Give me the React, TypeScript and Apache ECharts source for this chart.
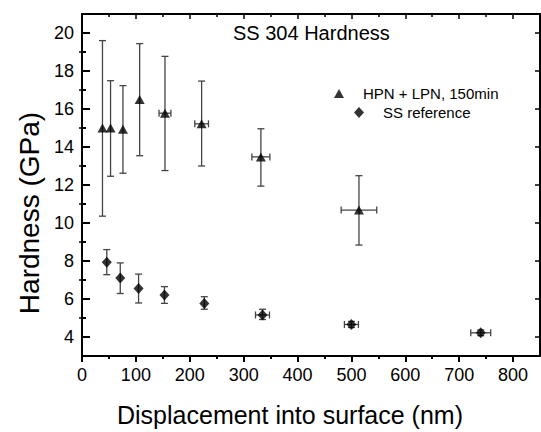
import React, { useEffect, useRef } from "react";
import * as echarts from "echarts";

// ---- data ----
const triName = "HPN + LPN, 150min";
const triX = [38, 53, 76, 107, 154, 222, 332, 514];
const triY = [15.0, 15.0, 14.93, 16.5, 15.78, 15.22, 13.48, 10.68];
const triYLow = [10.36, 12.46, 12.62, 13.54, 12.76, 13.0, 11.94, 8.84];
const triYHigh = [19.6, 17.49, 17.23, 19.44, 18.77, 17.47, 14.96, 12.49];
const triXErr = [2, 2, 3, 5, 11, 12.7, 16.7, 33];

const ssName = "SS reference";
const ssX = [46, 71, 105, 153, 227, 335, 500, 740];
const ssY = [7.94, 7.1, 6.55, 6.21, 5.76, 5.16, 4.66, 4.22];
const ssYLow = [7.28, 6.29, 5.79, 5.77, 5.46, 4.92, 4.5, 4.07];
const ssYHigh = [8.6, 7.9, 7.31, 6.65, 6.12, 5.46, 4.82, 4.37];
const ssXErr = [2, 2, 3, 6, 6, 13, 13, 18.5];

const xMajorTicks = [0, 100, 200, 300, 400, 500, 600, 700, 800];
const xMinorTicks = [50, 150, 250, 350, 450, 550, 650, 750];
const yMajorTicks = [4, 6, 8, 10, 12, 14, 16, 18, 20];
const yMinorTicks = [5, 7, 9, 11, 13, 15, 17, 19];
const xMin = 0, xMax = 850, yMin = 3, yMax = 21;

const FONT = "'Liberation Sans', Arial, Helvetica, sans-serif";

function rows(x: number[], y: number[], lo: number[], hi: number[], xe: number[]) {
  return x.map((v, i) => [v, y[i], lo[i], hi[i], xe[i]]);
}

function errRender(params: any, api: any) {
  const x = api.value(0), y = api.value(1), lo = api.value(2), hi = api.value(3), xe = api.value(4);
  const c = api.coord([x, y]);
  const top = api.coord([x, hi]);
  const bot = api.coord([x, lo]);
  const l = api.coord([x - xe, y]);
  const r = api.coord([x + xe, y]);
  const cap = 3.5;
  const st = { stroke: "#444", lineWidth: 1.3 };
  const children: any[] = [
    { type: "line", shape: { x1: top[0], y1: top[1], x2: bot[0], y2: bot[1] }, style: st },
    { type: "line", shape: { x1: top[0] - cap, y1: top[1], x2: top[0] + cap, y2: top[1] }, style: st },
    { type: "line", shape: { x1: bot[0] - cap, y1: bot[1], x2: bot[0] + cap, y2: bot[1] }, style: st },
  ];
  if (r[0] - l[0] > 9) {
    children.push(
      { type: "line", shape: { x1: l[0], y1: c[1], x2: r[0], y2: c[1] }, style: st },
      { type: "line", shape: { x1: l[0], y1: c[1] - cap, x2: l[0], y2: c[1] + cap }, style: st },
      { type: "line", shape: { x1: r[0], y1: c[1] - cap, x2: r[0], y2: c[1] + cap }, style: st }
    );
  }
  return { type: "group", children };
}

export default function App() {
  const ref = useRef<HTMLDivElement>(null);
  useEffect(() => {
    const chart = echarts.init(ref.current!, null, { renderer: "svg" });
    const axisLine = { show: true, onZero: false, lineStyle: { color: "#000", width: 2 } };
    const noLine = { show: false };
    const baseX = { type: "value", min: xMin, max: xMax, splitLine: { show: false } };
    const baseY = { type: "value", min: yMin, max: yMax, splitLine: { show: false } };
    chart.setOption({
      animation: false,
      backgroundColor: "#fff",
      title: {
        text: "SS 304 Hardness",
        left: 233,
        top: 23,
        padding: 0,
        textStyle: { fontFamily: FONT, fontSize: 20, fontWeight: "normal", color: "#000" },
      },
      legend: [
        {
          data: [{ name: triName, icon: "triangle" }],
          left: 334,
          top: 86,
          padding: 0,
          itemWidth: 10,
          itemHeight: 9,
          textStyle: { fontFamily: FONT, fontSize: 15, color: "#000", padding: [0, 0, 0, 14] },
        },
        {
          data: [{ name: ssName, icon: "diamond" }],
          left: 354,
          top: 105,
          padding: 0,
          itemWidth: 10,
          itemHeight: 11,
          textStyle: { fontFamily: FONT, fontSize: 15, color: "#000", padding: [0, 0, 0, 14] },
        },
      ],
      grid: { left: 82, top: 14, right: 1, bottom: 70, containLabel: false },
      xAxis: [
        {
          ...baseX,
          position: "bottom",
          axisLine,
          axisTick: { show: true, inside: false, length: 6, customValues: xMajorTicks, lineStyle: { color: "#000", width: 2 } },
          axisLabel: { show: true, customValues: xMajorTicks, margin: 10, fontFamily: FONT, fontSize: 18, color: "#000" },
          name: "Displacement into surface (nm)",
          nameLocation: "middle",
          nameGap: 46,
          nameTextStyle: { fontFamily: FONT, fontSize: 25, color: "#000", padding: [0, 42, 0, 0] },
        },
        {
          ...baseX,
          position: "bottom",
          axisLine: noLine,
          axisTick: { show: true, inside: false, length: 3, customValues: xMinorTicks, lineStyle: { color: "#000", width: 2 } },
          axisLabel: { show: false },
        },
        {
          ...baseX,
          position: "top",
          axisLine,
          axisTick: { show: true, inside: true, length: 5, customValues: xMajorTicks, lineStyle: { color: "#000", width: 1.5 } },
          axisLabel: { show: false },
        },
        {
          ...baseX,
          position: "top",
          axisLine: noLine,
          axisTick: { show: true, inside: true, length: 3, customValues: xMinorTicks, lineStyle: { color: "#000", width: 1.5 } },
          axisLabel: { show: false },
        },
      ],
      yAxis: [
        {
          ...baseY,
          position: "left",
          axisLine,
          axisTick: { show: true, inside: true, length: 8, customValues: yMajorTicks, lineStyle: { color: "#000", width: 2 } },
          axisLabel: { show: true, customValues: yMajorTicks, margin: 8, fontFamily: FONT, fontSize: 18, color: "#000" },
          name: "Hardness (GPa)",
          nameLocation: "middle",
          nameGap: 39,
          nameRotate: 90,
          nameTextStyle: { fontFamily: FONT, fontSize: 28, color: "#000", padding: [0, 56, 0, 0] },
        },
        {
          ...baseY,
          position: "left",
          axisLine: noLine,
          axisTick: { show: true, inside: true, length: 4, customValues: yMinorTicks, lineStyle: { color: "#000", width: 2 } },
          axisLabel: { show: false },
        },
        {
          ...baseY,
          position: "right",
          axisLine,
          axisTick: { show: true, inside: true, length: 5, customValues: yMajorTicks, lineStyle: { color: "#000", width: 1.5 } },
          axisLabel: { show: false },
        },
        {
          ...baseY,
          position: "right",
          axisLine: noLine,
          axisTick: { show: true, inside: true, length: 3, customValues: yMinorTicks, lineStyle: { color: "#000", width: 1.5 } },
          axisLabel: { show: false },
        },
      ],
      series: [
        {
          type: "custom",
          name: "triErr",
          renderItem: errRender,
          data: rows(triX, triY, triYLow, triYHigh, triXErr),
          encode: { x: 0, y: 1 },
          z: 2,
          silent: true,
        },
        {
          type: "custom",
          name: "ssErr",
          renderItem: errRender,
          data: rows(ssX, ssY, ssYLow, ssYHigh, ssXErr),
          encode: { x: 0, y: 1 },
          z: 2,
          silent: true,
        },
        {
          type: "scatter",
          name: triName,
          symbol: "triangle",
          symbolSize: [10, 9],
          itemStyle: { color: "#000" },
          data: triX.map((v, i) => [v, triY[i]]),
          z: 5,
        },
        {
          type: "scatter",
          name: ssName,
          symbol: "diamond",
          symbolSize: [10, 11],
          itemStyle: { color: "#000" },
          data: ssX.map((v, i) => [v, ssY[i]]),
          z: 5,
        },
      ],
    });
    return () => chart.dispose();
  }, []);
  return <div ref={ref} style={{ width: 541, height: 432, position: "absolute", left: 0, top: 0 }} />;
}
